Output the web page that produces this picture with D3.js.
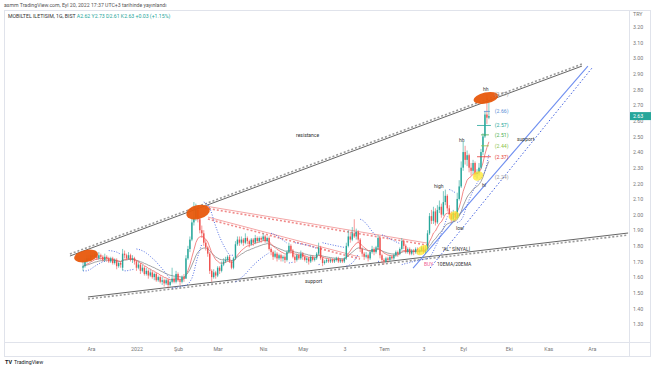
<!DOCTYPE html>
<html><head><meta charset="utf-8">
<script src="https://cdn.jsdelivr.net/npm/d3@7"></script>
<style>
body{margin:0;background:#fff;}
svg{display:block;font-family:Roboto,"Liberation Sans",sans-serif;}
</style>
</head><body>
<svg id="c" width="654" height="366"></svg>
<script>
// ---------- DATA (daily bars, Nov 25 2021 -> Sep 20 2022) ----------
const opens=[1.66,1.67,1.70,1.72,1.71,1.74,1.73,1.75,1.72,1.74,1.73,1.71,1.73,1.72,1.70,1.72,1.69,1.71,1.67,1.69,
1.66,1.75,1.74,1.72,1.74,1.71,1.72,1.70,1.66,1.68,1.64,1.66,1.62,1.64,1.61,1.63,1.60,1.62,1.58,1.60,
1.57,1.58,1.56,1.58,1.55,1.57,1.59,1.57,1.62,1.58,1.57,1.60,1.59,1.72,1.78,1.84,1.95,1.98,2.03,1.97,
1.90,1.88,1.82,1.79,1.75,1.64,1.60,1.63,1.61,1.66,1.64,1.68,1.70,1.71,1.73,1.70,1.66,1.72,1.81,1.84,
1.82,1.84,1.82,1.85,1.83,1.81,1.84,1.82,1.85,1.83,1.85,1.84,1.86,1.83,1.85,1.78,1.76,1.73,1.75,1.72,
1.74,1.72,1.73,1.71,1.76,1.80,1.77,1.73,1.71,1.74,1.72,1.75,1.73,1.71,1.72,1.70,1.73,1.71,1.72,1.75,
1.79,1.72,1.69,1.70,1.71,1.70,1.71,1.70,1.71,1.72,1.70,1.71,1.70,1.72,1.80,1.86,1.84,1.88,1.86,1.89,
1.84,1.78,1.75,1.73,1.74,1.72,1.76,1.78,1.76,1.79,1.85,1.74,1.71,1.70,1.72,1.71,1.73,1.72,1.74,1.76,
1.75,1.78,1.83,1.80,1.76,1.78,1.75,1.77,1.76,1.78,1.76,1.77,1.79,1.76,1.78,1.88,1.99,1.96,2.02,1.95,
2.03,2.05,2.00,2.08,2.12,2.04,2.00,1.97,2.01,1.98,2.10,2.18,2.30,2.40,2.35,2.38,2.30,2.28,2.33,2.26,
2.27,2.30,2.40,2.50,2.64,2.62];
const highs=[1.71,1.72,1.74,1.74,1.77,1.76,1.77,1.76,1.76,1.75,1.74,1.75,1.74,1.73,1.73,1.73,1.72,1.72,1.70,1.70,
1.78,1.77,1.75,1.76,1.75,1.74,1.73,1.71,1.70,1.69,1.68,1.67,1.66,1.65,1.65,1.64,1.63,1.63,1.61,1.61,
1.60,1.59,1.59,1.59,1.58,1.66,1.60,1.64,1.63,1.59,1.61,1.62,1.74,1.80,1.86,1.98,2.08,2.07,2.05,1.99,
1.93,1.90,1.84,1.80,1.76,1.65,1.65,1.64,1.67,1.67,1.70,1.72,1.73,1.74,1.74,1.71,1.73,1.83,1.86,1.86,
1.86,1.85,1.88,1.86,1.84,1.85,1.85,1.87,1.86,1.86,1.86,1.88,1.87,1.86,1.86,1.79,1.77,1.77,1.76,1.75,
1.75,1.74,1.74,1.77,1.82,1.81,1.78,1.74,1.75,1.75,1.77,1.76,1.74,1.73,1.73,1.74,1.74,1.73,1.76,1.82,
1.80,1.73,1.71,1.72,1.72,1.72,1.72,1.72,1.73,1.73,1.72,1.72,1.73,1.82,1.90,1.89,1.92,1.97,1.91,1.90,
1.85,1.79,1.76,1.76,1.75,1.77,1.80,1.79,1.80,1.87,1.86,1.75,1.72,1.73,1.73,1.74,1.74,1.75,1.77,1.77,
1.79,1.85,1.84,1.81,1.79,1.79,1.78,1.78,1.79,1.79,1.78,1.80,1.80,1.80,1.90,2.01,2.03,2.05,2.04,2.06,
2.09,2.07,2.15,2.16,2.13,2.06,2.02,2.03,2.02,2.14,2.22,2.34,2.47,2.44,2.41,2.39,2.33,2.35,2.34,2.29,
2.33,2.42,2.52,2.66,2.77,2.73];
const lows=[1.64,1.66,1.69,1.70,1.70,1.71,1.72,1.71,1.71,1.71,1.70,1.70,1.70,1.69,1.69,1.68,1.68,1.65,1.66,1.66,
1.64,1.72,1.71,1.71,1.70,1.69,1.68,1.64,1.65,1.62,1.63,1.61,1.61,1.59,1.60,1.59,1.58,1.57,1.57,1.56,
1.55,1.54,1.55,1.53,1.54,1.56,1.56,1.56,1.57,1.55,1.56,1.57,1.59,1.71,1.76,1.83,1.93,1.96,1.95,1.88,
1.85,1.80,1.77,1.73,1.62,1.57,1.59,1.59,1.60,1.62,1.63,1.67,1.69,1.70,1.69,1.65,1.65,1.71,1.80,1.80,
1.81,1.80,1.81,1.81,1.79,1.80,1.80,1.81,1.82,1.82,1.82,1.83,1.82,1.82,1.77,1.74,1.71,1.72,1.70,1.71,
1.70,1.70,1.69,1.70,1.75,1.75,1.72,1.69,1.70,1.71,1.71,1.71,1.70,1.69,1.68,1.69,1.70,1.70,1.71,1.74,
1.71,1.67,1.68,1.69,1.69,1.69,1.69,1.69,1.70,1.69,1.69,1.69,1.69,1.71,1.79,1.82,1.83,1.85,1.84,1.82,
1.76,1.73,1.71,1.72,1.70,1.71,1.75,1.74,1.75,1.78,1.72,1.69,1.68,1.69,1.69,1.70,1.71,1.71,1.73,1.73,
1.74,1.77,1.78,1.75,1.75,1.74,1.74,1.74,1.75,1.75,1.75,1.76,1.75,1.75,1.77,1.87,1.94,1.94,1.93,1.94,
2.01,1.98,1.99,2.06,2.02,1.98,1.95,1.96,1.96,1.97,2.09,2.17,2.28,2.32,2.31,2.27,2.25,2.26,2.24,2.23,
2.25,2.29,2.38,2.49,2.58,2.61];
const closes=[1.67,1.70,1.72,1.71,1.74,1.73,1.75,1.72,1.74,1.73,1.71,1.73,1.72,1.70,1.72,1.69,1.71,1.67,1.69,1.68,
1.75,1.74,1.72,1.74,1.71,1.72,1.70,1.66,1.68,1.64,1.66,1.62,1.64,1.61,1.63,1.60,1.62,1.58,1.60,1.57,
1.58,1.56,1.58,1.55,1.57,1.59,1.57,1.62,1.58,1.57,1.60,1.59,1.72,1.78,1.84,1.95,1.98,2.03,1.97,1.90,
1.88,1.82,1.79,1.75,1.64,1.60,1.63,1.61,1.66,1.64,1.68,1.70,1.71,1.73,1.70,1.66,1.72,1.81,1.84,1.82,
1.84,1.82,1.85,1.83,1.81,1.84,1.82,1.85,1.83,1.85,1.84,1.86,1.83,1.85,1.78,1.76,1.73,1.75,1.72,1.74,
1.72,1.73,1.71,1.76,1.80,1.77,1.73,1.71,1.74,1.72,1.75,1.73,1.71,1.72,1.70,1.73,1.71,1.72,1.75,1.79,
1.72,1.69,1.70,1.71,1.70,1.71,1.70,1.71,1.72,1.70,1.71,1.70,1.72,1.80,1.86,1.84,1.88,1.86,1.89,1.84,
1.78,1.75,1.73,1.74,1.72,1.76,1.78,1.76,1.79,1.85,1.74,1.71,1.70,1.72,1.71,1.73,1.72,1.74,1.76,1.75,
1.78,1.83,1.80,1.76,1.78,1.75,1.77,1.76,1.78,1.76,1.77,1.79,1.76,1.78,1.88,1.99,1.96,2.02,1.95,2.03,
2.05,2.00,2.08,2.12,2.04,2.00,1.97,2.01,1.98,2.10,2.18,2.30,2.40,2.35,2.38,2.30,2.28,2.33,2.26,2.27,
2.30,2.40,2.50,2.64,2.62,2.63];

const priceTicks=[3.2,3.1,3.0,2.9,2.8,2.7,2.6,2.5,2.4,2.3,2.2,2.1,2.0,1.9,1.8,1.7,1.6,1.5,1.4,1.3];
const timeLabels=["Ara","2022","Şub","Mar","Nis","May","3","Tem","3","Eyl","Eki","Kas","Ara"];
const timeLabelBars=[4,27,48,68,91,111,132,152,172,192,215,235,257];

// trend lines as [bar, price] anchors
const resistanceLine=[[-6.6,1.735],[252,2.95]];
const supportLine=[[2.5,1.473],[275.3,1.882]];
const pinkUpper=[[61.6,2.055],[173.7,1.818]];
const pinkLower=[[63.1,1.984],[139.9,1.728]];
const blueSolid=[[166.7,1.658],[255,2.95]];
const blueDotted=[[175.3,1.658],[257.1,2.938]];

const levelValues=[2.77,2.66,2.57,2.51,2.44,2.37,2.24];
const lastPrice=2.63;

// ---------- SCALES ----------
const svg=d3.select("#c");
const x=d3.scaleLinear().domain([0,100]).range([83,281]);
const y=d3.scaleLinear().domain([1.30,3.20]).range([324,27]);
const plot={l:4,r:629,t:10,b:342};

// header
svg.append("text").attr("x",4).attr("y",7).attr("font-size",5.2).attr("fill","#555")
  .text("asmm TradingView.com, Eyl 20, 2022 17:37 UTC+3 tarihinde yayınlandı");
const h2=svg.append("text").attr("x",8).attr("y",18).attr("font-size",5.2);
h2.append("tspan").attr("fill","#333").text("MOBILTEL ILETISIM, 1G, BIST  ");
h2.append("tspan").attr("fill","#26a69a").text("A2.62  Y2.73  D2.61  K2.63  +0.03 (+1.15%)");

// frame
const fr=svg.append("g").attr("stroke","#e0e3eb").attr("stroke-width",1).attr("fill","none");
fr.append("rect").attr("x",4.5).attr("y",10.5).attr("width",646).attr("height",346);
fr.append("line").attr("x1",629.5).attr("x2",629.5).attr("y1",10).attr("y2",357);
fr.append("line").attr("x1",4).attr("x2",651).attr("y1",342.5).attr("y2",342.5);

svg.append("clipPath").attr("id","pc").append("rect")
  .attr("x",plot.l+1).attr("y",plot.t+1).attr("width",plot.r-plot.l-1).attr("height",plot.b-plot.t-1);
const g=svg.append("g").attr("clip-path","url(#pc)");

// helper for double-styled trend lines
function trend(pts,solid,dash,off,w){
  const [a,b]=pts;
  g.append("line").attr("x1",x(a[0])).attr("y1",y(a[1])).attr("x2",x(b[0])).attr("y2",y(b[1]))
    .attr("stroke",solid).attr("stroke-width",w||1);
  if(dash){
    g.append("line").attr("x1",x(a[0])).attr("y1",y(a[1])+off).attr("x2",x(b[0])).attr("y2",y(b[1])+off)
      .attr("stroke",dash).attr("stroke-width",1.6).attr("stroke-dasharray","2,2");
  }
}
trend(resistanceLine,"#666","#9a9a9a",-2);
trend(supportLine,"#666","#9a9a9a",2);
trend(pinkUpper,"#f4a6a6","#f08a8a",2);
trend(pinkLower,"#f4a6a6","#f08a8a",2);
trend(blueSolid,"#6f8ff0",null,0,1.1);
{
  const [a,b]=blueDotted;
  g.append("line").attr("x1",x(a[0])).attr("y1",y(a[1])).attr("x2",x(b[0])).attr("y2",y(b[1]))
    .attr("stroke","#3f5fe0").attr("stroke-width",1).attr("stroke-dasharray","1.5,2");
}

// EMAs
function ema(arr,n){const k=2/(n+1);let e=arr[0];return arr.map((v,i)=>(e=i===0?v:v*k+e*(1-k)));}
const ema10=ema(closes,10), ema20=ema(closes,20);
const ln=d3.line().x((d,i)=>x(i)).y(d=>y(d));
g.append("path").attr("d",ln(ema20)).attr("fill","none").attr("stroke","#8c8c8c").attr("stroke-width",0.8);
g.append("path").attr("d",ln(ema10)).attr("fill","none").attr("stroke","#f06a6a").attr("stroke-width",0.8);

// Parabolic SAR (computed from highs/lows)
(function(){
  let up=true,af=0.02,ep=highs[0],sar=lows[0];
  const segs=[];let cur=[[0,sar]];
  for(let i=1;i<closes.length;i++){
    sar=sar+af*(ep-sar);
    let flip=false;
    if(up){
      sar=Math.min(sar,lows[i-1],i>1?lows[i-2]:lows[i-1]);
      if(lows[i]<sar){up=false;flip=true;sar=ep;ep=lows[i];af=0.02;}
      else if(highs[i]>ep){ep=highs[i];af=Math.min(af+0.02,0.2);}
    }else{
      sar=Math.max(sar,highs[i-1],i>1?highs[i-2]:highs[i-1]);
      if(highs[i]>sar){up=true;flip=true;sar=ep;ep=highs[i];af=0.02;}
      else if(lows[i]<ep){ep=lows[i];af=Math.min(af+0.02,0.2);}
    }
    if(flip){segs.push(cur);cur=[];}
    cur.push([i,sar]);
  }
  segs.push(cur);
  const sl=d3.line().x(d=>x(d[0])).y(d=>y(d[1]));
  segs.forEach(s=>{
    g.append("path").attr("d",sl(s)).attr("fill","none").attr("stroke","#3f5fe0")
      .attr("stroke-width",0.9).attr("stroke-dasharray","1,1.6");
  });
})();

// candles
const up="#26a69a", dn="#ef5350";
const cg=g.append("g");
closes.forEach((c,i)=>{
  const o=opens[i], col=c>=o?up:dn, cx=x(i);
  cg.append("line").attr("x1",cx).attr("x2",cx).attr("y1",y(highs[i])).attr("y2",y(lows[i]))
    .attr("stroke",col).attr("stroke-width",0.6);
  const top=y(Math.max(o,c)), bot=y(Math.min(o,c));
  cg.append("rect").attr("x",cx-0.7).attr("width",1.4).attr("y",top).attr("height",Math.max(0.6,bot-top)).attr("fill",col);
});

// highlight ellipses
const orange=[[1.5,1.735,12,6,-12],[58.1,2.016,12,7,-14],[203.5,2.746,12.5,5.5,-12]];
orange.forEach(e=>{
  g.append("ellipse").attr("transform",`translate(${x(e[0])},${y(e[1])}) rotate(${e[4]})`)
    .attr("rx",e[2]).attr("ry",e[3]).attr("fill","#e8590c").attr("opacity",0.95);
});
const yellow=[[171.2,1.773,6.5,4,-40],[187.4,1.991,5.5,4.5,-30],[199.5,2.247,5.5,4.5,-30]];
yellow.forEach(e=>{
  g.append("ellipse").attr("transform",`translate(${x(e[0])},${y(e[1])}) rotate(${e[4]})`)
    .attr("rx",e[2]).attr("ry",e[3]).attr("fill","#ffe82e").attr("opacity",0.75);
});

// price level markers near last bars
const levelColors=["#999","#5b8fd6","#26a69a","#4caf50","#8bc34a","#e53935","#999"];
const levelMarks=[[0,0],[202.5,205.5],[199,206],[201,205],[201,205],[199,206],[0,0]];
levelValues.forEach((v,i)=>{
  const m=levelMarks[i];
  if(m[1]>0) g.append("line").attr("x1",x(m[0])).attr("x2",x(m[1])).attr("y1",y(v)).attr("y2",y(v))
     .attr("stroke",levelColors[i]).attr("stroke-width",0.8);
  g.append("text").attr("x",x(208)).attr("y",y(v)).attr("dy","0.35em").attr("font-size",5.2)
    .attr("fill",levelColors[i]).text("("+v.toFixed(2)+")");
});

// annotations
const notes=[
 ["resistance",107.6,2.509,"#333"],["support",112.1,1.575,"#333"],["support",219.2,2.483,"#333"],
 ["high",177.3,2.183,"#333"],["low",188.4,1.914,"#333"],["hh",189.9,2.477,"#333"],["hh",202,2.803,"#333"],
 ["hl",201.5,2.189,"#333"],["\"AL\" SİNYALİ",181.3,1.78,"#333"],["BUY",172.2,1.683,"#f06292"],
 ["10EMA/20EMA",178.8,1.683,"#333"]
];
notes.forEach(n=>{
  g.append("text").attr("x",x(n[1])).attr("y",y(n[2])).attr("dy","0.35em").attr("font-size",5)
    .attr("fill",n[3]).text(n[0]);
});

// price axis
const ya=svg.append("g").attr("transform","translate(629,0)")
  .call(d3.axisRight(y).tickValues(priceTicks).tickSize(0).tickPadding(4).tickFormat(d3.format(".2f")));
ya.select(".domain").remove();
ya.selectAll("text").attr("font-size",5.3).attr("fill","#777").attr("font-family","Roboto, sans-serif");
svg.append("text").attr("x",633).attr("y",16).attr("font-size",5.3).attr("fill","#777").text("TRY");
// last price tag
svg.append("rect").attr("x",630).attr("y",y(lastPrice)-4).attr("width",21).attr("height",8).attr("fill","#26a69a");
svg.append("text").attr("x",633).attr("y",y(lastPrice)).attr("dy","0.35em").attr("font-size",5.3)
  .attr("fill","#fff").text(lastPrice.toFixed(2));

// time axis
const xa=svg.append("g").attr("transform",`translate(0,${plot.b})`)
  .call(d3.axisBottom(x).tickValues(timeLabelBars).tickSize(0).tickPadding(5).tickFormat((d,i)=>timeLabels[i]));
xa.select(".domain").remove();
xa.selectAll("text").attr("font-size",5.3).attr("fill","#777").attr("font-family","Roboto, sans-serif");

// TradingView mark
svg.append("text").attr("x",5).attr("y",364).attr("font-size",5.5).attr("font-weight","bold").attr("fill","#131722").text("TV");
svg.append("text").attr("x",14).attr("y",364).attr("font-size",5.3).attr("fill","#131722").text("TradingView");
</script>
</body></html>
